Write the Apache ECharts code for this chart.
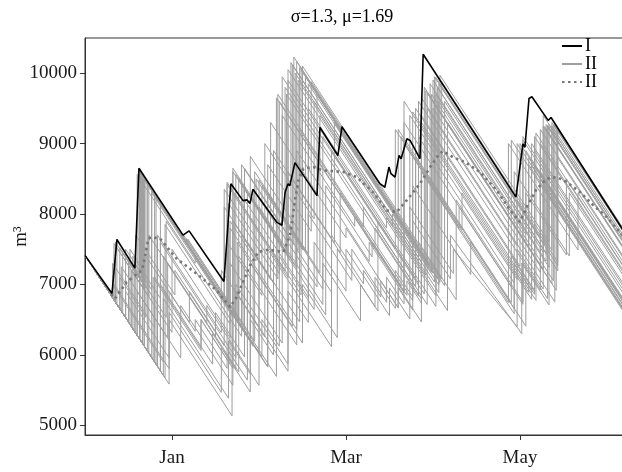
<!DOCTYPE html>
<html>
<head>
<meta charset="utf-8">
<script src="https://cdn.jsdelivr.net/npm/echarts@6/dist/echarts.min.js"></script>
<style>
  html, body { margin: 0; padding: 0; background: #fff; }
  #chart { width: 622px; height: 472px; }
</style>
</head>
<body>
<div id="chart"></div>
<script>
// x = days from 1 Jan, y = m3
const xTicks = [0, 60, 120];
const xTickLabels = ['Jan', 'Mar', 'May'];
const yTicks = [5000, 6000, 7000, 8000, 9000, 10000];

// I (black)
const lineI = [[-30,7412],[-20.7,6870],[-20.3,6850],[-19,7640],[-12.8,7230],[-11.4,8650],[3.8,7700],[5.9,7760],[6.2,7740],
  [17.9,7040],[20.3,8430],[24.5,8190],[25.9,8200],[26.9,8150],[27.9,8350],[36.2,7880],[37.9,7840],[39,8310],[40,8430],
  [40.6,8400],[42.4,8730],[50,8260],[51,9230],[57.2,8830],[58.6,9240],[71.7,8430],[73.4,8380],[74.8,8666],[75.5,8572],
  [76.9,8524],[78.3,8832],[79,8785],[81,9068],[82.1,9045],[85.5,8785],[86.6,10270],[118.6,8240],[121,8996],[121.7,8948],
  [123.1,9640],[124.1,9665],[129.7,9330],[130.7,9370],[156.2,7726]];

// II (dotted, mean)
const lineMean = [[-21,6860],[-19.7,6797],[-15.6,7033],[-10.4,7199],[-9.3,7388],[-8.2,7648],[-7,7671],[-4.1,7648],[1.6,7365],
  [8.5,7152],[15.4,6915],[20,6678],[22.3,6820],[26.9,7270],[29.8,7459],[33.2,7493],[38.4,7459],[40.7,7696],[42.4,8193],
  [43.6,8477],[45.3,8643],[48.7,8667],[52.1,8620],[59.1,8596],[63.7,8525],[69.3,8311],[74,8051],[77.5,8028],[80.9,8193],
  [85.5,8430],[89,8666],[91.8,8832],[93.4,8893],[96.9,8807],[101,8737],[106.2,8596],[112,8335],[116.6,8051],[120,7885],
  [122.3,8099],[125.8,8359],[129.2,8501],[132.7,8525],[136.1,8454],[140.7,8311],[145.3,8122],[149.9,7956],[153.9,7767],[156.2,7650]];

// II (grey runs)
const u01 = [[-30,7410],[-19.5,6749],[-19.5,7600],[-11.4,7090],[-11.4,8610],[5,7577],[5,7650],[24,6453],[24,8700],[42,7566],[42,10230],[89,7269],[89,9850],[129,7330],[129,9270],[156.2,7556]];
const u02 = [[-30,7410],[-18,6654],[-18,7520],[-10,7016],[-10,8520],[21,6567],[21,8600],[40,7403],[40,10050],[91,6837],[91,9940],[127,7672],[127,9200],[156.2,7360]];
const u03 = [[-30,7410],[-17,6591],[-17,7450],[-9,6946],[-9,8460],[27,6192],[27,8820],[44,7749],[44,10080],[92.4,7031],[92.4,9970],[130,7601],[130,9230],[156.2,7579]];
const u04 = [[-30,7410],[-20,6780],[-20,7580],[-8,6824],[-8,8420],[30,6026],[30,8480],[46,7472],[46,9950],[88,7304],[88,9720],[131,7011],[131,9300],[156.2,7712]];
const u05 = [[-30,7410],[-11,6213],[-11,8580],[4,7635],[4,7700],[19,6755],[19,8450],[39,7190],[39,9800],[84,6965],[84,9500],[125,6917],[125,9100],[156.2,7134]];
const u06 = [[-30,7410],[-6,5898],[-6,8290],[33,5833],[33,8700],[48,7755],[48,9880],[94,6982],[94,9600],[128,7458],[128,9250],[156.2,7473]];
const u07 = [[-30,7410],[-13,6339],[-13,7300],[-7,6922],[-7,8330],[22,6503],[22,8560],[41,7363],[41,10150],[86,7315],[86,9650],[132,6752],[132,9270],[156.2,7745]];
const u08 = [[-30,7410],[-4,5772],[-4,8160],[18,6774],[18,8350],[37,7153],[37,9600],[80,6891],[80,9300],[121,6717],[121,9050],[156.2,6832]];
const u09 = [[-30,7410],[-9.5,6119],[-9.5,8500],[26,6263],[26,8300],[43,7229],[43,10170],[90,7209],[90,9900],[133,7191],[133,9200],[156.2,7738]];
const u10 = [[-30,7410],[-16,6528],[-16,7500],[-11,7185],[-11,8600],[20,6647],[20,7900],[29,7333],[29,8500],[45,7492],[45,10100],[93,7076],[93,9880],[131,7486],[131,9250],[156.2,7662]];
const u11 = [[-30,7410],[-12,6276],[-12,8560],[8,7300],[8,7380],[28,6120],[28,8350],[50,6964],[50,9700],[82,7684],[82,9400],[119,7069],[119,9000],[156.2,6656]];
const u12 = [[-30,7410],[-19,6717],[-19,7620],[-10.5,7085],[-10.5,8560],[19,6702],[19,8420],[40,7097],[40,9900],[91,6687],[91,9700],[130,7243],[130,9270],[156.2,7619]];
const u13 = [[-30,7410],[-7,5961],[-7,8300],[21,6536],[21,8650],[38,7579],[38,9950],[87,6863],[87,9800],[128,7217],[128,9400],[156.2,7623]];
const u14 = [[-30,7410],[-10,6150],[-10,8550],[23,6471],[23,8500],[42.5,7271],[42.5,10000],[92,6881],[92,9850],[133,7267],[133,9200],[156.2,7738]];
const u15 = [[-30,7410],[-14.5,6433],[-14.5,7500],[-10.8,7267],[-10.8,8600],[24.5,6376],[24.5,8400],[39.5,7455],[39.5,9700],[85,6833],[85,9600],[129.5,6796],[129.5,9260],[156.2,7578]];
const u16 = [[-30,7410],[-8.5,6055],[-8.5,8440],[22.5,6487],[22.5,7600],[41.5,6403],[41.5,10120],[90.5,7033],[90.5,9950],[128.5,7556],[128.5,9240],[156.2,7495]];
const u17 = [[-30,7410],[-11.2,6226],[-11.2,8620],[25,6339],[25,8650],[43.5,7484],[43.5,9900],[87.5,7128],[87.5,9750],[132.5,6915],[132.5,9250],[156.2,7757]];
const u18 = [[-30,7410],[-19.5,6749],[-19.5,7550],[-9.8,6939],[-9.8,8520],[21.5,6548],[21.5,8300],[44.5,6851],[44.5,10050],[91.5,7089],[91.5,9800],[129,7437],[129,9200],[156.2,7486]];
const u19 = [[-30,7410],[-5.5,5866],[-5.5,8250],[19.5,6675],[19.5,8150],[36.5,7079],[36.5,9700],[83,6770],[83,9450],[125.5,6772],[125.5,9150],[156.2,7216]];
const u20 = [[-30,7410],[-10.2,6163],[-10.2,8560],[5.5,7571],[5.5,7640],[28.5,6191],[28.5,8600],[47,7434],[47,9850],[89.5,7172],[89.5,9700],[131.5,7054],[131.5,9270],[156.2,7714]];
const m01 = [[-30,7410],[-15,6465],[-15,7350],[-2,6531],[-2,7900],[24,6262],[24,7700],[34,7070],[34,9300],[60,7662],[60,7800],[78,6666],[78,9200],[117,6743],[117,9050],[156.2,6580]];
const m02 = [[-30,7410],[-3,5709],[-3,7400],[12,6455],[12,6700],[30,5566],[30,8100],[52,6714],[52,9100],[84,7084],[84,8800],[122,6406],[122,8900],[156.2,6745]];
const m03 = [[-30,7410],[-14,6402],[-14,7200],[0,6318],[0,7500],[20,6240],[20,7800],[36,6792],[36,9650],[70,7508],[70,7800],[86,6792],[86,9400],[120,7258],[120,9000],[156.2,6719]];
const m04 = [[-30,7410],[-20,6780],[-20,7000],[-1,5803],[-1,6900],[8,6333],[8,6500],[19,5807],[19,7600],[31,6844],[31,8400],[55,6888],[55,8900],[77,7514],[77,9200],[116,6743],[116,9000],[140,7488],[140,8300],[156.2,7279]];
const m05 = [[-30,7410],[-8,6024],[-8,7700],[15,6251],[15,6600],[25,5970],[25,8200],[47,6814],[47,9500],[74,7799],[74,7950],[95,6627],[95,9300],[123,7536],[123,8800],[156.2,6708]];
const m06 = [[-30,7410],[-5,5835],[-5,7700],[17,6314],[17,7200],[32,6255],[32,9000],[49,7929],[49,9600],[85,7332],[85,9100],[118,7021],[118,8600],[137,7403],[137,8300],[156.2,7090]];
const m07 = [[-30,7410],[-13.5,6371],[-13.5,7400],[-4,6801],[-4,7600],[22,5962],[22,7000],[40,5866],[40,8600],[56,7592],[56,9300],[90,7158],[90,9500],[127,7169],[127,9000],[156.2,7160]];
const m08 = [[-30,7410],[-2.4,5671],[-2.4,7850],[20,6439],[20,7300],[38,6166],[38,9400],[63,7825],[63,7950],[80,6879],[80,9600],[121,7017],[121,9100],[156.2,6882]];
const m09 = [[-30,7410],[-18,6654],[-18,7100],[-9,6533],[-9,7400],[6,6455],[6,6900],[26,5640],[26,7600],[44,6466],[44,9200],[66,7814],[66,8100],[88,6714],[88,9500],[119,7547],[119,8200],[133,7318],[133,8800],[156.2,7338]];
const m10 = [[-30,7410],[-6.5,5930],[-6.5,7100],[10,6060],[10,6500],[21,5807],[21,7900],[35,7018],[35,8900],[58,7451],[58,8300],[79,6977],[79,9100],[100,7777],[100,8300],[124,6788],[124,9000],[156.2,6971]];
const m11 = [[-30,7410],[-17.5,6622],[-17.5,7250],[-1.5,6242],[-1.5,7300],[23,5756],[23,7400],[43,6140],[43,8900],[68,7325],[68,7600],[86,6466],[86,9300],[124,6906],[124,8700],[156.2,6671]];
const m12 = [[-30,7410],[-12.5,6307],[-12.5,7700],[1,6849],[1,7200],[18,6129],[18,8100],[33,7155],[33,8300],[51,7166],[51,9400],[76,7825],[76,8000],[92,6992],[92,9600],[122,7710],[122,8300],[136,7418],[136,8500],[156.2,7227]];
const l01 = [[-30,7410],[-1,5583],[-1,6500],[20.7,5133],[20.7,6600],[33,5825],[33,7500],[55,6114],[55,7700],[66,7007],[66,7200],[72,6822],[72,7050],[78,6672],[78,6950],[83,6635],[83,7900],[96,7081],[96,7700],[120.6,6300],[120.6,7300],[130,6708],[130,8250],[156.2,6599]];
const l02 = [[-30,7410],[-20.5,6811],[-20.5,7000],[-3,5897],[-3,6800],[19.5,5382],[19.5,6200],[27,5727],[27,6500],[35,5996],[35,7700],[53,6566],[53,8400],[69,7392],[69,7600],[81,6844],[81,7050],[86,6735],[86,8600],[118,6584],[118,7200],[123,6885],[123,8700],[156.2,6608]];
const l03 = [[-30,7410],[-12,6276],[-12,6900],[3,5955],[3,6700],[21,5566],[21,6600],[31,5970],[31,6500],[37,6122],[37,7400],[49,6644],[49,7600],[60,6907],[60,7500],[75,6555],[75,6950],[82,6509],[82,8100],[97,7155],[97,7500],[119,6400],[119,7500],[128,6933],[128,8400],[156.2,6623]];
const l04 = [[-30,7410],[-4,5772],[-4,7000],[14,5866],[14,6300],[22,5796],[22,6900],[40,5766],[40,6900],[47,6459],[47,8000],[62,7055],[62,7500],[74,6744],[74,7100],[80,6722],[80,9000],[99,7803],[99,8100],[117,6966],[117,7400],[125,6896],[125,8700],[156.2,6734]];
const l05 = [[-30,7410],[-16,6528],[-16,6900],[-1,5955],[-1,6600],[17,5466],[17,6100],[27,5470],[27,7300],[45,6166],[45,7000],[57,6244],[57,7500],[70,6681],[70,7100],[77,6659],[77,7200],[83,6822],[83,8400],[103,7140],[103,7600],[118,6655],[118,7300],[125,6859],[125,8900],[156.2,6934]];
const l06 = [[-30,7410],[-20.5,6811],[-20.5,7300],[-6,6386],[-6,7100],[10,6092],[10,6500],[20,5870],[20,6700],[36,5692],[36,6800],[43,6359],[43,7500],[52,6933],[52,7300],[65,6481],[65,7000],[71,6622],[71,7900],[85,7018],[85,7600],[98,6781],[98,8200],[121,6751],[121,7300],[127,6922],[127,8600],[156.2,6760]];

const greyRuns = [u01, u02, u03, u04, u05, u06, u07, u08, u09, u10, u11, u12, u13, u14, u15, u16, u17, u18, u19, u20,
  m01, m02, m03, m04, m05, m06, m07, m08, m09, m10, m11, m12, l01, l02, l03, l04, l05, l06];

const serif = 'Liberation Serif';
const grey = '#9e9e9e';
const dotGrey = '#777777';

const chart = echarts.init(document.getElementById('chart'));

const series = greyRuns.map(run => ({
  name: 'II',
  type: 'line',
  data: run,
  symbol: 'none',
  silent: true,
  color: grey,
  itemStyle: { color: grey, opacity: 0 },
  lineStyle: { color: grey, width: 1 },
  z: 2
}));

series.push({
  name: 'II ',
  type: 'line',
  data: lineMean,
  symbol: 'none',
  silent: true,
  color: dotGrey,
  itemStyle: { color: dotGrey, opacity: 0 },
  lineStyle: { color: dotGrey, width: 2.6, type: [2.5, 3.5] },
  z: 3
});

series.push({
  name: 'I',
  type: 'line',
  data: lineI,
  symbol: 'none',
  silent: true,
  color: '#000',
  itemStyle: { color: '#000', opacity: 0 },
  lineStyle: { color: '#000', width: 1.6 },
  z: 4
});

chart.setOption({
  animation: false,
  backgroundColor: '#fff',
  title: {
    text: 'σ=1.3, μ=1.69',
    left: 337,
    top: 3,
    textAlign: 'center',
    textStyle: { fontFamily: serif, fontSize: 18, fontWeight: 'normal', color: '#000' }
  },
  legend: {
    orient: 'vertical',
    left: 561,
    top: 37,
    padding: 0,
    itemWidth: 20,
    itemHeight: 14,
    itemGap: 0,
    data: ['I', 'II', 'II '],
    formatter: name => name.trim(),
    itemStyle: { opacity: 0 },
    textStyle: { fontFamily: serif, fontSize: 18, lineHeight: 18, color: '#000', padding: [0, 0, 0, -2] }
  },
  grid: {
    left: 85,
    right: -3,
    top: 38,
    bottom: 37,
    outerBoundsMode: 'none',
    show: true,
    borderColor: '#333',
    borderWidth: 1
  },
  xAxis: {
    type: 'value',
    min: -30,
    max: 156.2,
    axisLine: { onZero: false, lineStyle: { color: '#333', width: 1 } },
    axisTick: { customValues: xTicks, length: 5, lineStyle: { color: '#333' } },
    axisLabel: {
      customValues: xTicks,
      formatter: v => xTickLabels[xTicks.indexOf(v)],
      fontFamily: serif,
      fontSize: 19,
      color: '#1a1a1a',
      margin: 14
    },
    splitLine: { show: false }
  },
  yAxis: {
    type: 'value',
    min: 4860,
    max: 10500,
    name: 'm³',
    nameLocation: 'middle',
    nameGap: 54,
    nameRotate: 90,
    nameMoveOverlap: false,
    nameTextStyle: { fontFamily: serif, fontSize: 19, color: '#1a1a1a' },
    axisLine: { show: true, onZero: false, lineStyle: { color: '#333', width: 1 } },
    axisTick: { show: true, customValues: yTicks, length: 5, lineStyle: { color: '#333' } },
    axisLabel: {
      customValues: yTicks,
      formatter: v => String(v),
      fontFamily: serif,
      fontSize: 19,
      color: '#1a1a1a',
      margin: 8
    },
    splitLine: { show: false }
  },
  series: series
});
</script>
</body>
</html>
